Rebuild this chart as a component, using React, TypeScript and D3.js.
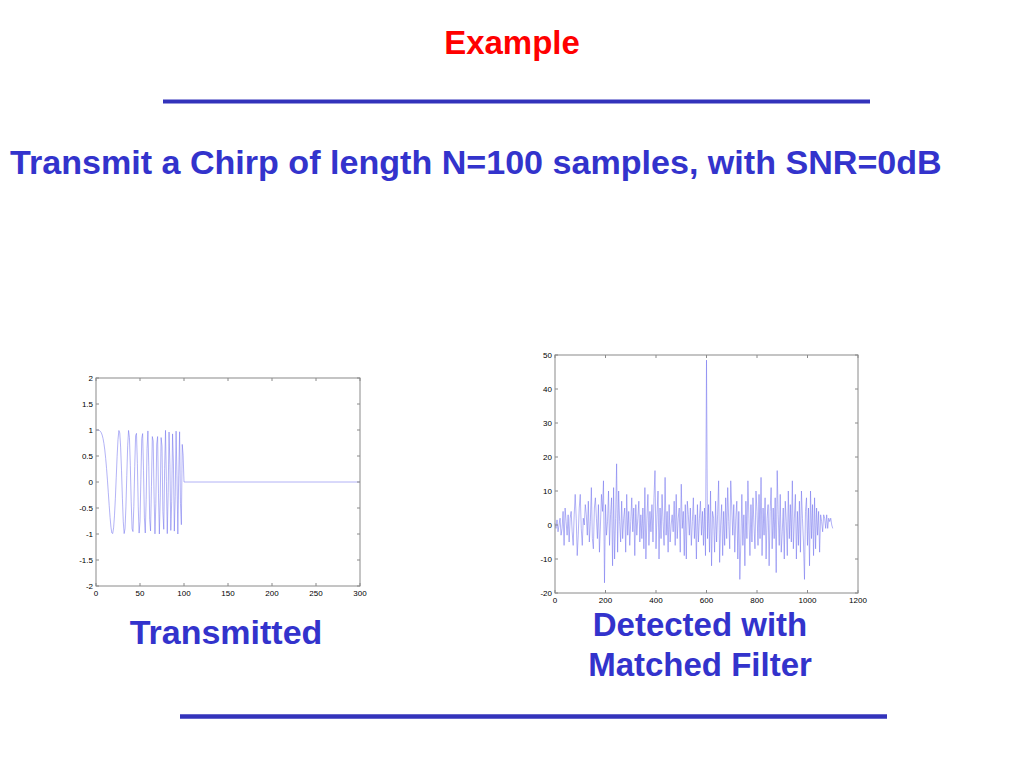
import React from 'react';
import * as d3 from 'd3';

// Transmitted chirp samples, n = 0..99 (then zero up to 300)
const chirpSamples: number[] = [
  1.0, 1.0, 1.0, 0.997, 0.99, 0.974, 0.947, 0.903, 0.836, 0.742,
  0.615, 0.454, 0.26, 0.036, -0.207, -0.454, -0.684, -0.869, -0.98, -0.991,
  -0.882, -0.65, -0.312, 0.091, 0.494, 0.821, 0.99, 0.944, 0.671, 0.216,
  -0.313, -0.765, -0.992, -0.895, -0.478, 0.127, 0.697, 0.991, 0.855, 0.321,
  -0.38, -0.902, -0.953, -0.471, 0.295, 0.895, 0.935, 0.356, -0.478, -0.982,
  -0.76, 0.054, 0.836, 0.931, 0.225, -0.69, -0.98, -0.338, 0.643, 0.982,
  0.295, -0.716, -0.941, -0.091, 0.874, 0.788, -0.278, -0.997, -0.413, 0.729,
  0.874, -0.216, -0.999, -0.304, 0.855, 0.691, -0.572, -0.91, 0.26, 0.993,
  0.009, -0.993, -0.207, 0.961, 0.33, -0.931, -0.381, 0.925, 0.364, -0.944,
  -0.278, 0.978, 0.118, -1.0, 0.118, 0.966, -0.414, -0.821, 0.723, 0.518,
];
const chirpTailX = [100, 300];
const chirpTailY = [0, 0];

// Matched filter output, one value every 4 samples from n = 0 to 1100
const detectedStep = 4;
const detectedValues: number[] = [
  0.5, -1, 1.5, -2, 0, 2, -3, -1, 4, -6,
  5, 1, -3, 3, -5, 2, 4, -2, -6, 3,
  9, 2, -9, -3, 5, 9, -1, -6, 2, 0,
  6, 3, -3, 7, -5, 1, 11, -4, -7, 5,
  8, 2, -4, 6, -8, 0, 9, 4, 13, -17,
  6, -3, 1, 10, -6, 3, 8, -12, 11, -10,
  2, 18, -8, 10, 1, -5, 7, -4, 2, 5,
  -8, 9, -3, 4, -6, 1, 8, -2, 5, -9,
  6, -3, 2, 7, -5, 3, -4, 5, -7, 11,
  -10, 2, 9, -6, 4, -2, 6, -5, 8, 16,
  -7, 3, 10, -10, 5, -4, 9, 1, -6, 14,
  -3, 4, -8, 6, -5, 0, 3, -2, 7, -6,
  9, -4, 2, 5, -8, 12, -1, 4, -9, 6,
  -10, 7, 3, -3, 5, -6, 1, 8, -4, 3,
  -10, 6, -5, 2, 7, -3, 4, -6, 5, -9,
  48.5, -4, 6, -8, 10, -12, 4, 2, -8, 7,
  -5, 3, 13, -11, 0, 6, -9, 4, -6, 8,
  -4, 11, 1, -7, 13, 5, -3, 6, -8, 2,
  7, -10, 4, -16, -5, 9, -6, 3, -12, 7,
  -4, 13, 2, -9, 6, -5, 8, 0, -7, 10,
  4, -6, 9, -4, 14, -9, 5, -3, 8, -10,
  2, 6, -12, 4, 11, -7, 5, -4, 8, -14,
  16, 3, -6, 9, -8, -2, 5, -10, 7, 1,
  -9, 10, -4, 6, -5, 13, -7, 2, 9, -10,
  4, -6, 7, -8, 10, 2, -5, -16, 4, 8,
  -6, 5, -12, 10, -4, 6, -9, 8, -7, 5,
  -3, 4, -8, 3, 1, -2, 3, 2, -1, 3,
  -1, 2, 1, 2, 0, -1,
];

const leftXTicks = [0, 50, 100, 150, 200, 250, 300];
const leftYTicks = [-2, -1.5, -1, -0.5, 0, 0.5, 1, 1.5, 2];
const rightXTicks = [0, 200, 400, 600, 800, 1000, 1200];
const rightYTicks = [-20, -10, 0, 10, 20, 30, 40, 50];

const TITLE = 'Example';
const SUBTITLE = 'Transmit a Chirp of length N=100 samples, with SNR=0dB';
const LEFT_CAPTION = ['Transmitted'];
const RIGHT_CAPTION = ['Detected with', 'Matched Filter'];

type Pt = [number, number];

function Plot(props: {
  left: number; top: number; width: number; height: number;
  xDomain: [number, number]; yDomain: [number, number];
  xTicks: number[]; yTicks: number[]; points: Pt[];
}) {
  const { left, top, width, height, xDomain, yDomain, xTicks, yTicks, points } = props;
  const x = d3.scaleLinear().domain(xDomain).range([left, left + width]);
  const y = d3.scaleLinear().domain(yDomain).range([top + height, top]);
  const line = d3.line<Pt>().x(d => x(d[0])).y(d => y(d[1]));
  const tl = 3;
  const axisColor = '#8a8a8a';
  return (
    <g>
      <path d={line(points) || ''} fill="none" stroke="#7474ee" strokeWidth={0.55} />
      <rect x={left} y={top} width={width} height={height} fill="none" stroke={axisColor} strokeWidth={1} />
      {xTicks.map(t => (
        <g key={'x' + t}>
          <line x1={x(t)} x2={x(t)} y1={top + height} y2={top + height - tl} stroke={axisColor} />
          <line x1={x(t)} x2={x(t)} y1={top} y2={top + tl} stroke={axisColor} />
          <text x={x(t)} y={top + height + 10} textAnchor="middle" fontSize={8} fontFamily="Liberation Sans, Arial, sans-serif" fill="#000">{String(t)}</text>
        </g>
      ))}
      {yTicks.map(t => (
        <g key={'y' + t}>
          <line x1={left} x2={left + tl} y1={y(t)} y2={y(t)} stroke={axisColor} />
          <line x1={left + width} x2={left + width - tl} y1={y(t)} y2={y(t)} stroke={axisColor} />
          <text x={left - 3} y={y(t)} dy="0.35em" textAnchor="end" fontSize={8} fontFamily="Liberation Sans, Arial, sans-serif" fill="#000">{String(t)}</text>
        </g>
      ))}
    </g>
  );
}

export default function App() {
  const leftPoints: Pt[] = chirpSamples.map((v, i) => [i, v] as Pt)
    .concat(chirpTailX.map((xv, i) => [xv, chirpTailY[i]] as Pt));
  const rightPoints: Pt[] = detectedValues.map((v, i) => [i * detectedStep, v] as Pt);
  const font = 'Liberation Sans, Arial, Helvetica, sans-serif';
  const blue = '#3333CC';
  return (
    <svg width={1024} height={768} style={{ position: 'absolute', left: 0, top: 0, background: '#fff' }}>
      <rect x={0} y={0} width={1024} height={768} fill="#fff" />
      <text x={512} y={54} textAnchor="middle" fontFamily={font} fontWeight="bold" fontSize={33} fill="#FF0000">{TITLE}</text>
      <line x1={163} x2={870} y1={101.5} y2={101.5} stroke="#3333BB" strokeWidth={4} />
      <text x={10} y={174} fontFamily={font} fontWeight="bold" fontSize={34.1} fill={blue}>{SUBTITLE}</text>

      <Plot left={96} top={378} width={264} height={208} xDomain={[0, 300]} yDomain={[-2, 2]}
        xTicks={leftXTicks} yTicks={leftYTicks} points={leftPoints} />
      <Plot left={555} top={355} width={303} height={238} xDomain={[0, 1200]} yDomain={[-20, 50]}
        xTicks={rightXTicks} yTicks={rightYTicks} points={rightPoints} />

      {LEFT_CAPTION.map((s, i) => (
        <text key={s} x={226} y={644 + i * 40} textAnchor="middle" fontFamily={font} fontWeight="bold" fontSize={34} fill={blue}>{s}</text>
      ))}
      {RIGHT_CAPTION.map((s, i) => (
        <text key={s} x={700} y={636 + i * 40} textAnchor="middle" fontFamily={font} fontWeight="bold" fontSize={33} fill={blue}>{s}</text>
      ))}
      <line x1={180} x2={887} y1={716.5} y2={716.5} stroke="#3333BB" strokeWidth={4.5} />
    </svg>
  );
}
